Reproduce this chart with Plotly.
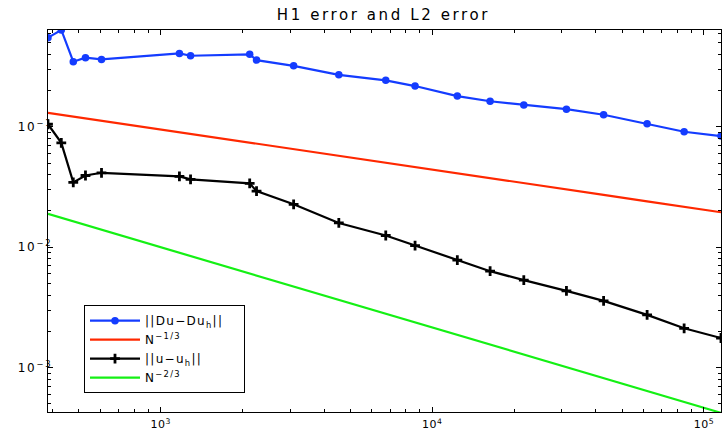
import plotly.graph_objects as go

# Number of degrees of freedom N
N = [385, 431, 477, 529, 606, 1173, 1289, 2128, 2255, 3088, 4530, 6743, 8645,
     12370, 16330, 21730, 31190, 42740, 61800, 84580, 115600]

# ||Du - Du_h||  (H1 error)
h1_err = [0.55, 0.637, 0.347, 0.375, 0.363, 0.407, 0.389, 0.40, 0.358, 0.321, 0.270,
          0.243, 0.218, 0.180, 0.163, 0.152, 0.140, 0.126, 0.106, 0.0909, 0.0837]

# N^(-1/3) reference
ref13 = [0.1306, 0.1258, 0.1216, 0.1175, 0.1123, 0.0900, 0.0873, 0.0739, 0.0725, 0.0652,
         0.0574, 0.0503, 0.0463, 0.0411, 0.0374, 0.0340, 0.0302, 0.0272, 0.0240, 0.0216, 0.0195]

# ||u - u_h||  (L2 error)
l2_err = [0.105, 0.0736, 0.0345, 0.0394, 0.0415, 0.0387, 0.0366, 0.0339, 0.0292, 0.0227,
          0.0159, 0.0125, 0.01032, 0.0078, 0.00632, 0.00532, 0.00434, 0.00358, 0.00274,
          0.00212, 0.00176]

# N^(-2/3) reference
ref23 = [0.0189, 0.01753, 0.01638, 0.01529, 0.01397, 0.00898, 0.00845, 0.00605, 0.00582,
         0.00472, 0.00365, 0.00280, 0.00237, 0.00187, 0.00155, 0.00128, 0.00101, 0.000818,
         0.000640, 0.000519, 0.000421]

x_ticks = [1e3, 1e4, 1e5]
x_ticktext = ["10<sup>3</sup>", "10<sup>4</sup>", "10<sup>5</sup>"]
y_ticks = [1e-3, 1e-2, 1e-1]
y_ticktext = ["10<sup>−3</sup>", "10<sup>−2</sup>", "10<sup>−1</sup>"]

x_minor = [m * 10 ** e for e in range(2, 6) for m in range(2, 10)]
y_minor = [m * 10.0 ** e for e in range(-4, 0) for m in range(2, 10)]

BLUE = "rgb(20,60,255)"
RED = "rgb(255,40,0)"
GREEN = "rgb(20,240,20)"
BLACK = "black"


def wide(s, sp):
    return '<span style="letter-spacing:%spx">%s</span>' % (sp, s)


PAD = "\u00a0\u00a0\u00a0"

fig = go.Figure()
fig.add_trace(go.Scatter(x=N, y=h1_err, mode="lines+markers",
                         name=wide("||Du−Du<sub>h</sub>||" + PAD, 1.3),
                         line=dict(color=BLUE, width=2.2),
                         marker=dict(symbol="circle", size=7.5, color=BLUE)))
fig.add_trace(go.Scatter(x=N, y=ref13, mode="lines", name=wide("N<sup>−1/3</sup>", 1.3),
                         line=dict(color=RED, width=2.2)))
fig.add_trace(go.Scatter(x=N, y=l2_err, mode="lines+markers",
                         name=wide("||u−u<sub>h</sub>||", 1.3),
                         line=dict(color=BLACK, width=2.2),
                         marker=dict(symbol="cross-thin", size=7, color=BLACK,
                                     line=dict(color=BLACK, width=2.8))))
fig.add_trace(go.Scatter(x=N, y=ref23, mode="lines", name=wide("N<sup>−2/3</sup>", 1.3),
                         line=dict(color=GREEN, width=2.2)))

FONT = "DejaVu Sans, Liberation Sans, Arial, sans-serif"

axis_common = dict(type="log", showgrid=False, zeroline=False, automargin=False,
                   showline=True, linecolor="black", linewidth=1.2, mirror="ticks",
                   ticks="inside", ticklen=5, tickwidth=1.2, tickcolor="black")

fig.update_layout(
    width=722, height=433,
    margin=dict(l=48, r=1, t=30, b=21, autoexpand=False),
    paper_bgcolor="white", plot_bgcolor="white",
    title=dict(text=wide("H1 error and L2 error", 2.6), x=0.531, xanchor="center",
               y=1 - 15 / 433, yanchor="middle", yref="container",
               font=dict(family=FONT, size=15, color="black")),
    xaxis=dict(range=[2.5855, 5.063], tickvals=x_ticks,
               ticktext=[wide(t, 0.5) for t in x_ticktext],
               ticklabelstandoff=2,
               tickfont=dict(family=FONT, size=11, color="black"),
               minor=dict(tickvals=x_minor, ticks="inside", ticklen=3, tickcolor="black",
                          tickwidth=1),
               **axis_common),
    yaxis=dict(range=[-3.369, -0.196], tickvals=y_ticks,
               ticktext=[wide(t, 1.8) for t in y_ticktext],
               ticklabelstandoff=-8,
               tickfont=dict(family=FONT, size=12, color="black"),
               minor=dict(tickvals=y_minor, ticks="inside", ticklen=3, tickcolor="black",
                          tickwidth=1),
               **axis_common),
    showlegend=True,
    legend=dict(x=(84 - 48) / 673, y=(411.7 - 305) / 381.7, xanchor="left", yanchor="top",
                bgcolor="white", bordercolor="black", borderwidth=1,
                font=dict(family=FONT, size=12, color="black"),
                itemwidth=50, tracegroupgap=0),
)

fig.write_html("out.html", config={"displayModeBar": False},
               post_script="document.body.style.margin='0';document.body.style.padding='0';")
